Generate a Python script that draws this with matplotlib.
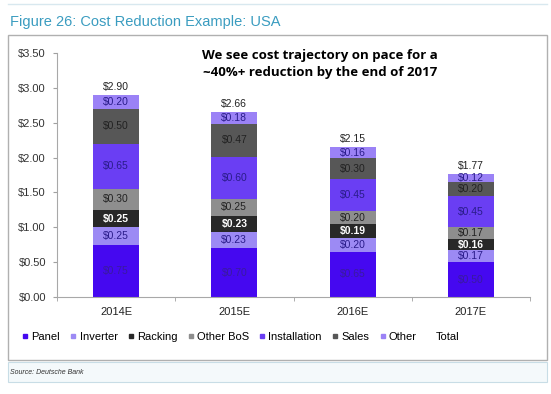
import matplotlib
matplotlib.use("Agg")
from matplotlib import pyplot as plt
from matplotlib.lines import Line2D
from matplotlib.patches import Rectangle
import numpy as np

plt.rcParams["font.family"] = ["Liberation Sans", "DejaVu Sans"]

years = ["2014E", "2015E", "2016E", "2017E"]
components = ["Panel", "Inverter", "Racking", "Other BoS", "Installation", "Sales", "Other"]
panel = [0.75, 0.70, 0.65, 0.50]
inverter = [0.25, 0.23, 0.20, 0.17]
racking = [0.25, 0.23, 0.19, 0.16]
other_bos = [0.30, 0.25, 0.20, 0.17]
installation = [0.65, 0.60, 0.45, 0.45]
sales = [0.50, 0.47, 0.30, 0.20]
other = [0.20, 0.18, 0.16, 0.12]
totals = [2.90, 2.66, 2.15, 1.77]

series = [panel, inverter, racking, other_bos, installation, sales, other]
colors = ["#4508f0", "#9c8af4", "#282828", "#8e8e8e", "#6a3ef3", "#575757", "#9b82f6"]
text_colors = ["#3a1aa0", "#2a1c8a", "white", "#222222", "#2a1c8a", "#222222", "#2a1c8a"]

fig = plt.figure(figsize=(5.51, 3.94), dpi=100)
fig.patch.set_facecolor("white")

# frame boxes
fig.patches.append(Rectangle((8 / 551, 1 - 360 / 394), 539 / 551, 325 / 394, transform=fig.transFigure,
                             fill=False, edgecolor="#b0b0b0", linewidth=1.0))
fig.patches.append(Rectangle((8 / 551, 1 - 382 / 394), 539 / 551, 20 / 394, transform=fig.transFigure,
                             facecolor="#f4f9fb", edgecolor="#c8dde6", linewidth=0.8, zorder=-1))
fig.lines.append(Line2D([8 / 551, 547 / 551], [1 - 4 / 394, 1 - 4 / 394], transform=fig.transFigure,
                        color="#d8e8ef", linewidth=1.0))

fig.text(10 / 551, 1 - 22 / 394, "Figure 26: Cost Reduction Example: USA", color="#3a9cc0",
         fontsize=10.5, va="center", ha="left")
fig.text(10 / 551, 1 - 372 / 394, "Source: Deutsche Bank", fontsize=5, style="italic",
         color="#333333", va="center")

ax = fig.add_axes([57 / 551, 1 - 297 / 394, 473 / 551, 244 / 394])
x = np.arange(len(years))
bottom = np.zeros(len(years))
for vals, col, tcol, name in zip(series, colors, text_colors, components):
    ax.bar(x, vals, 0.39, bottom=bottom, color=col, label=name, zorder=2)
    for xi, v, bt in zip(x, vals, bottom):
        ax.text(xi, bt + v / 2, "$%.2f" % v, ha="center", va="center", fontsize=7.5,
                color=tcol, fontweight="bold" if tcol == "white" else "normal")
    bottom += np.array(vals)

for xi, t in zip(x, totals):
    ax.text(xi, t + 0.04, "$%.2f" % t, ha="center", va="bottom", fontsize=7.5, color="#222222")

fig.text(320 / 551, 1 - 64 / 394, "We see cost trajectory on pace for a\n~40%+ reduction by the end of 2017",
         ha="center", va="center", fontsize=9.5, fontweight="bold",
         family="Open Sans", linespacing=1.35)

ax.set_xlim(-0.5, 3.5)
ax.set_ylim(0, 3.5)
ax.set_yticks(np.arange(0, 3.51, 0.5))
ax.set_yticklabels(["$%.2f" % v for v in np.arange(0, 3.51, 0.5)])
ax.set_xticks(x)
ax.set_xticklabels(years)
ax.set_xticks(np.arange(-0.5, 3.6, 1), minor=True)
ax.tick_params(axis="x", which="major", length=0, labelsize=8, colors="#222222", pad=7)
ax.tick_params(axis="x", which="minor", length=3, color="#a0a0a0")
ax.tick_params(axis="y", length=3, color="#a0a0a0", labelsize=8, labelcolor="#333333", pad=5)
for s in ["top", "right"]:
    ax.spines[s].set_visible(False)
for s in ["left", "bottom"]:
    ax.spines[s].set_color("#a8a8a8")

handles = [Line2D([], [], marker="s", linestyle="", color=c, markersize=3.5) for c in colors]
handles.append(Line2D([], [], marker="s", linestyle="", color="none", markersize=3.5))
fig.legend(handles, components + ["Total"], loc="center left", bbox_to_anchor=(22 / 551, 1 - 337 / 394),
           ncol=8, frameon=False, fontsize=8, handlelength=0.6, handletextpad=0.25,
           columnspacing=0.9, borderaxespad=0, borderpad=0)

fig.savefig("out.png", dpi=100)
